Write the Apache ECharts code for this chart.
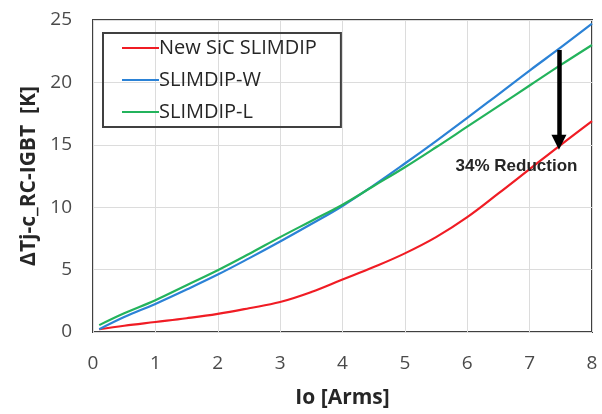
<!DOCTYPE html>
<html>
<head>
<meta charset="utf-8">
<script src="https://cdn.jsdelivr.net/npm/echarts@6/dist/echarts.min.js"></script>
<style>
  html, body { margin: 0; padding: 0; background: #fff; }
  #main { width: 602px; height: 414px; }
</style>
</head>
<body>
<div id="main"></div>
<script>
// current values
var io = [0.1, 0.5, 1, 1.5, 2, 2.5, 3, 3.5, 4, 4.5, 5, 5.5, 6, 6.5, 7, 7.5, 8];
var newSic = [0.22, 0.5, 0.8, 1.1, 1.45, 1.9, 2.4, 3.2, 4.2, 5.2, 6.3, 7.6, 9.2, 11.1, 13.05, 15.0, 16.9];
var slimW = [0.22, 1.2, 2.25, 3.4, 4.6, 5.9, 7.25, 8.65, 10.1, 11.75, 13.5, 15.3, 17.15, 19.05, 20.95, 22.8, 24.7];
var slimL = [0.55, 1.5, 2.55, 3.75, 4.95, 6.25, 7.6, 8.9, 10.2, 11.7, 13.2, 14.8, 16.45, 18.1, 19.75, 21.4, 23.0];
var names = ['New SiC SLIMDIP', 'SLIMDIP-W', 'SLIMDIP-L'];
var colors = ['#f01c24', '#2b82d6', '#23b35c'];
// arrow from SLIMDIP-W down to SiC, and its label
var arrowFrom = [7.47, 22.6];
var arrowTo = [7.47, 15.2];
var noteAt = [6.79, 13.3];
var noteText = '34% Reduction';

function pairs(ys) {
	var out = [];
	for (var i = 0; i < io.length; i++) { out.push([io[i], ys[i]]); }
	return out;
}

var dom = document.getElementById("main");
var myChart = echarts.init(dom);
var tickFont = { fontFamily: 'Open Sans', fontSize: 19, color: '#4a4a4a' };
var nameFont = { fontFamily: 'Open Sans', fontSize: 21, fontWeight: 'bold', color: '#262626' };
var option = {
	animation: false,
	grid: {
		left: 93, right: 10, top: 20, bottom: 81,
		show: true, borderColor: '#404040', borderWidth: 2
	},
	legend: {
		orient: 'vertical',
		left: 103, top: 33,
		padding: [4, 24, 4, 19],
		borderColor: '#404040', borderWidth: 2,
		itemWidth: 37, itemHeight: 2, itemGap: 10,
		icon: 'rect',
		textStyle: { fontFamily: 'Open Sans', fontSize: 20, color: '#262626', lineHeight: 22, padding: [0, 0, 0, -5] },
		data: names
	},
	xAxis: {
		type: 'value', min: 0, max: 8, interval: 1,
		name: 'Io [Arms]', nameLocation: 'middle', nameGap: 56,
		nameTextStyle: nameFont,
		axisLine: { show: false }, axisTick: { show: false },
		axisLabel: Object.assign({ margin: 22 }, tickFont),
		splitLine: { lineStyle: { color: '#dcdcdc', width: 1 } }
	},
	yAxis: {
		type: 'value', min: 0, max: 25, interval: 5,
		name: 'ΔTj-c_RC-IGBT  [K]', nameLocation: 'middle', nameGap: 45,
		nameTextStyle: nameFont,
		axisLine: { show: false }, axisTick: { show: false },
		axisLabel: Object.assign({ margin: 21 }, tickFont),
		splitLine: { lineStyle: { color: '#dcdcdc', width: 1 } }
	},
	series: [
		{
			name: names[0], type: 'line', smooth: 0.4, showSymbol: false,
			data: pairs(newSic), color: colors[0], lineStyle: { width: 2.2 },
			markLine: {
				silent: true, symbol: ['none', 'triangle'], symbolSize: [15, 15], symbolRotate: 180,
				lineStyle: { color: '#000', width: 4.5, type: 'solid' },
				label: { show: false },
				data: [[{ coord: arrowFrom }, { coord: arrowTo }]]
			},
			markPoint: {
				silent: true, symbol: 'circle', symbolSize: 0,
				label: {
					show: true, position: 'inside', formatter: noteText,
					fontFamily: 'Liberation Sans', fontWeight: 'bold', fontSize: 17, color: '#262626'
				},
				data: [{ coord: noteAt }]
			}
		},
		{
			name: names[1], type: 'line', smooth: 0.4, showSymbol: false,
			data: pairs(slimW), color: colors[1], lineStyle: { width: 2.2 }
		},
		{
			name: names[2], type: 'line', smooth: 0.4, showSymbol: false,
			data: pairs(slimL), color: colors[2], lineStyle: { width: 2.2 }
		}
	]
};
myChart.setOption(option, true);
</script>
</body>
</html>
